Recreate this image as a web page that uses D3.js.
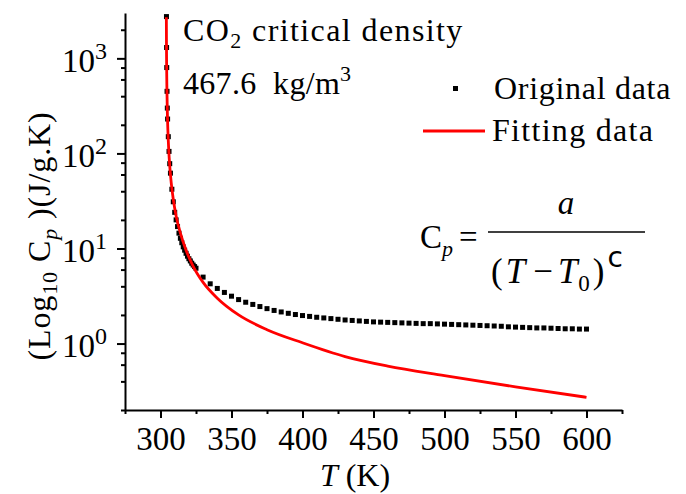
<!DOCTYPE html>
<html>
<head>
<meta charset="utf-8">
<script src="https://cdn.jsdelivr.net/npm/d3@7"></script>
<style>
  body { margin: 0; background: #fff; }
  text { font-family: "Liberation Serif", serif; fill: #000; }
</style>
</head>
<body>
<div id="chart"></div>
<script>
// original data, T (K) and Cp (J/g.K)
const origT = [304.2, 304.3, 304.4, 304.6, 304.8, 305, 305.5, 306, 306.5, 307, 308, 309, 310,
  311, 312, 313, 314, 315, 316, 317, 318, 319, 320, 321, 322, 323, 324,
  325, 330, 335, 340, 345, 350, 355, 360, 365, 370, 375, 380, 385, 390, 395,
  400, 405, 410, 415, 420, 425, 430, 435, 440, 445, 450, 455, 460, 465, 470,
  475, 480, 485, 490, 495, 500, 505, 510, 515, 520, 525, 530, 535, 540, 545,
  550, 555, 560, 565, 570, 575, 580, 585, 590, 595, 600];
const origCp = [2750, 1300, 800, 450, 300, 230, 150, 105, 78, 62, 42, 31, 24,
  20, 17, 14.5, 12.8, 11.5, 10.4, 9.6, 8.9, 8.3, 7.8, 7.4, 7.0, 6.7, 6.45,
  6.2, 5.0, 4.25, 3.8, 3.45, 3.15, 2.9, 2.72, 2.58, 2.45, 2.33, 2.23, 2.15, 2.08, 2.02,
  1.97, 1.93, 1.89, 1.86, 1.83, 1.80, 1.77, 1.75, 1.73, 1.71, 1.69, 1.68, 1.67, 1.66, 1.65,
  1.64, 1.63, 1.62, 1.62, 1.61, 1.60, 1.59, 1.58, 1.57, 1.56, 1.55, 1.54, 1.53, 1.52, 1.50,
  1.49, 1.48, 1.47, 1.46, 1.46, 1.45, 1.44, 1.43, 1.43, 1.42, 1.42];

// fitted curve
const fitT = [304.12, 304.2, 304.3, 304.5, 304.8, 305.2, 305.8, 306.5, 307.5, 309, 311,
  314, 318, 323, 330, 340, 355, 375, 400, 430, 460, 500, 550, 600];
const fitCp = [2700, 1430, 890, 490, 280, 175, 109, 74, 50, 33, 22,
  14.5, 9.6, 6.5, 4.4, 3.0, 2.0, 1.4, 1.02, 0.73, 0.58, 0.46, 0.35, 0.272];

const xTicks = [300, 350, 400, 450, 500, 550, 600];
const xMinor = [275, 325, 375, 425, 475, 525, 575, 625];
const yTicks = [1, 10, 100, 1000];
const yMinor = [0.2, 0.4, 0.6, 0.8, 2, 4, 6, 8, 20, 40, 60, 80, 200, 400, 600, 800, 2000];

const svg = d3.select("#chart")
  .append("svg")
  .attr("width", 686)
  .attr("height", 494);

const x = d3.scaleLinear().domain([275, 625]).range([125, 622]);
const y = d3.scaleLog().domain([0.2, 3000]).range([410, 13]);

// data marks
svg.append("g")
  .selectAll("rect")
  .data(origT.map((t, i) => ({ t: t, c: origCp[i] })))
  .join("rect")
  .attr("x", d => x(d.t) - 2.5)
  .attr("y", d => y(d.c) - 2.5)
  .attr("width", 5)
  .attr("height", 5)
  .attr("fill", "#000");

const line = d3.line()
  .x(d => x(d.t))
  .y(d => y(d.c))
  .curve(d3.curveMonotoneX);

svg.append("path")
  .datum(fitT.map((t, i) => ({ t: t, c: fitCp[i] })))
  .attr("d", line)
  .attr("fill", "none")
  .attr("stroke", "#ff0000")
  .attr("stroke-width", 2.8);

// axes
const xAxis = svg.append("g")
  .attr("transform", "translate(0,410)")
  .call(d3.axisBottom(x).tickValues(xTicks).tickSize(8).tickSizeOuter(0).tickPadding(8));
svg.append("g")
  .attr("transform", "translate(0,410)")
  .call(d3.axisBottom(x).tickValues(xMinor).tickSize(4).tickFormat(""))
  .call(g => g.select(".domain").remove());

const yAxis = svg.append("g")
  .attr("transform", "translate(125,0)")
  .call(d3.axisLeft(y).tickValues(yTicks).tickSize(8).tickSizeOuter(0).tickPadding(10));
svg.append("g")
  .attr("transform", "translate(125,0)")
  .call(d3.axisLeft(y).tickValues(yMinor).tickSize(4).tickFormat(""))
  .call(g => g.select(".domain").remove());

svg.selectAll(".domain, .tick line")
  .attr("stroke", "#000")
  .attr("stroke-width", 2);

xAxis.selectAll(".tick text")
  .attr("font-family", "Liberation Serif, serif")
  .attr("font-size", 33)
  .attr("dy", "0.72em");

yAxis.selectAll(".tick text")
  .attr("font-family", "Liberation Serif, serif")
  .attr("font-size", 33)
  .attr("dy", "0.4em")
  .each(function(d) {
    const t = d3.select(this);
    t.text(null);
    t.append("tspan").text("10");
    t.append("tspan").attr("dy", -13).attr("font-size", 24).text(Math.round(Math.log10(d)));
  });

// annotation
const note = svg.append("g").attr("font-size", 32);
const l1 = note.append("text").attr("x", 183).attr("y", 41).attr("letter-spacing", 1.4);
l1.append("tspan").text("CO");
l1.append("tspan").attr("font-size", 22).attr("dy", 7).text("2");
l1.append("tspan").attr("dy", -7).text(" critical density");
const l2 = note.append("text").attr("x", 183).attr("y", 94).attr("letter-spacing", 0.3);
l2.append("tspan").text("467.6\u00a0\u00a0kg/m");
l2.append("tspan").attr("font-size", 22).attr("dy", -13).text("3");

// legend
svg.append("rect").attr("x", 453).attr("y", 86).attr("width", 5).attr("height", 5).attr("fill", "#000");
svg.append("text").attr("x", 494).attr("y", 99).attr("font-size", 32)
  .attr("letter-spacing", 0.7).text("Original data");
svg.append("line").attr("x1", 423).attr("x2", 485).attr("y1", 131).attr("y2", 131)
  .attr("stroke", "#ff0000").attr("stroke-width", 2.8);
svg.append("text").attr("x", 492).attr("y", 141).attr("font-size", 32)
  .attr("letter-spacing", 1.3).text("Fitting data");

// formula
const f = svg.append("g").attr("font-size", 33);
const lhs = f.append("text").attr("x", 420).attr("y", 248);
lhs.append("tspan").text("C");
lhs.append("tspan").attr("font-style", "italic").attr("font-size", 22).attr("dy", 8).text("p");
lhs.append("tspan").attr("dy", -8).attr("dx", 6).text("=");
f.append("line").attr("x1", 488).attr("x2", 645).attr("y1", 232).attr("y2", 232)
  .attr("stroke", "#000").attr("stroke-width", 1.6);
f.append("text").attr("x", 566).attr("y", 214).attr("text-anchor", "middle")
  .attr("font-style", "italic").text("a");
const den = f.append("text").attr("x", 491).attr("y", 283).attr("font-size", 35);
den.append("tspan").text("(");
den.append("tspan").attr("font-style", "italic").attr("dx", 3).text("T");
den.append("tspan").attr("dx", 8).text("\u2212");
den.append("tspan").attr("font-style", "italic").attr("dx", 5).text("T");
den.append("tspan").attr("font-size", 23).attr("dy", 8).attr("dx", 1).text("0");
den.append("tspan").attr("dy", -8).attr("dx", 3).text(")");
den.append("tspan").attr("font-family", "DejaVu Sans, sans-serif").attr("font-size", 28)
  .attr("dy", -16).attr("dx", 3).text("c");

// axis titles
const yl = svg.append("text")
  .attr("transform", "translate(50,236) rotate(-90)")
  .attr("text-anchor", "middle")
  .attr("letter-spacing", 0.9)
  .attr("font-size", 32);
yl.append("tspan").text("(Log");
yl.append("tspan").attr("font-size", 22).attr("dy", 7).text("10");
yl.append("tspan").attr("dy", -7).text(" C");
yl.append("tspan").attr("font-size", 22).attr("font-style", "italic").attr("dy", 7).text("p");
yl.append("tspan").attr("dy", -7).text(" )(J/g.K)");

const xl = svg.append("text")
  .attr("x", 355).attr("y", 486)
  .attr("text-anchor", "middle")
  .attr("font-size", 32);
xl.append("tspan").attr("font-style", "italic").text("T");
xl.append("tspan").text(" (K)");
</script>
</body>
</html>
